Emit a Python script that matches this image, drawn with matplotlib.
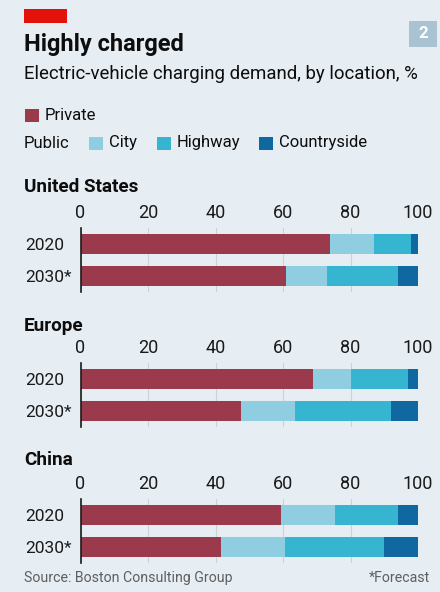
import matplotlib
matplotlib.use("Agg")
import matplotlib.pyplot as plt
from matplotlib.patches import Rectangle

plt.rcParams['font.family'] = ['Roboto', 'DejaVu Sans']

regions = ["United States", "Europe", "China"]
years = ["2020", "2030*"]
private = {"United States": [74, 61], "Europe": [69, 47.5], "China": [59.5, 41.5]}
city = {"United States": [13, 12], "Europe": [11, 16], "China": [16, 19]}
highway = {"United States": [11, 21], "Europe": [17, 28.5], "China": [18.5, 29.5]}
countryside = {"United States": [2, 6], "Europe": [3, 8], "China": [6, 10]}
ticks = [0, 20, 40, 60, 80, 100]

C_PRIV = "#9b3a4c"
C_CITY = "#8fcde0"
C_HWY = "#35b5d0"
C_CTRY = "#0f68a0"
BG = "#e6edf3"

W, H = 440, 592
fig = plt.figure(figsize=(W / 100, H / 100), dpi=100)
fig.patch.set_facecolor(BG)


def fx(px):
    return px / W


def fy(py):
    return 1 - py / H


# red tag
fig.patches.append(Rectangle((fx(24), fy(23)), fx(43), 14 / H, transform=fig.transFigure,
                             facecolor="#e3120b", edgecolor="none"))
# chart number box
fig.patches.append(Rectangle((fx(409), fy(47)), fx(28), 26 / H, transform=fig.transFigure,
                             facecolor="#a9c3d3", edgecolor="none"))
fig.text(fx(423), fy(34), "2", color="white", fontsize=12, fontweight="bold",
         ha="center", va="center")

fig.text(fx(24), fy(44), "Highly charged", fontsize=17, fontweight="bold",
         color="#0d0d0d", va="center", ha="left")
fig.text(fx(24), fy(74), "Electric-vehicle charging demand, by location, %", fontsize=13.4,
         color="#0d0d0d", va="center", ha="left")

# legend
def legend_item(x, y, color, label):
    fig.patches.append(Rectangle((fx(x), fy(y + 6.5)), fx(14), 13 / H, transform=fig.transFigure,
                                 facecolor=color, edgecolor="none"))
    fig.text(fx(x + 20), fy(y), label, fontsize=12, color="#0d0d0d", va="center", ha="left")


legend_item(25, 115, C_PRIV, "Private")
fig.text(fx(24), fy(143), "Public", fontsize=12, color="#0d0d0d", va="center", ha="left")
legend_item(89, 143, C_CITY, "City")
legend_item(157, 143, C_HWY, "Highway")
legend_item(259, 143, C_CTRY, "Countryside")

title_y = [187, 326, 460]
axis_top = [228, 363, 499]
AX_L = 80.5
for reg, ty, top in zip(regions, title_y, axis_top):
    fig.text(fx(24), fy(ty), reg, fontsize=13.6, fontweight="bold", color="#0d0d0d",
             va="center", ha="left")
    ax = fig.add_axes([fx(AX_L), fy(top + 64), fx(418 - AX_L), 64 / H])
    ax.set_facecolor("none")
    ypos = list(range(len(years)))
    left = [0] * len(years)
    for vals, col in [(private[reg], C_PRIV), (city[reg], C_CITY),
                      (highway[reg], C_HWY), (countryside[reg], C_CTRY)]:
        ax.barh(ypos, vals, left=left, height=0.6, color=col, edgecolor="none", zorder=2)
        left = [a + b for a, b in zip(left, vals)]
    ax.set_xlim(0, 100)
    ax.set_ylim(len(years) - 0.5, -0.5)
    ax.set_xticks(ticks)
    ax.set_xticklabels([str(t) for t in ticks])
    ax.xaxis.tick_top()
    ax.tick_params(axis="x", length=0, pad=4, labelsize=13, labelcolor="#1a1a1a")
    ax.set_yticks(ypos)
    ax.set_yticklabels(years)
    ax.tick_params(axis="y", length=0, labelsize=12.5, labelcolor="#1a1a1a",
                   pad=(AX_L - 25) * 72 / 100)
    for lab in ax.get_yticklabels():
        lab.set_horizontalalignment("left")
    ax.grid(axis="x", color="#c9d3db", linewidth=0.8, zorder=0)
    for s in ["top", "right", "bottom"]:
        ax.spines[s].set_visible(False)
    ax.spines["left"].set_color("#1a1a1a")
    ax.spines["left"].set_linewidth(1.2)
    ax.spines["left"].set_zorder(3)

fig.text(fx(24), fy(578), "Source: Boston Consulting Group", fontsize=10.2, color="#5f5f5f",
         va="center", ha="left")
fig.text(fx(430), fy(578), "*Forecast", fontsize=10.2, color="#5f5f5f", va="center", ha="right")

fig.savefig("out.png", dpi=100, facecolor=BG)
